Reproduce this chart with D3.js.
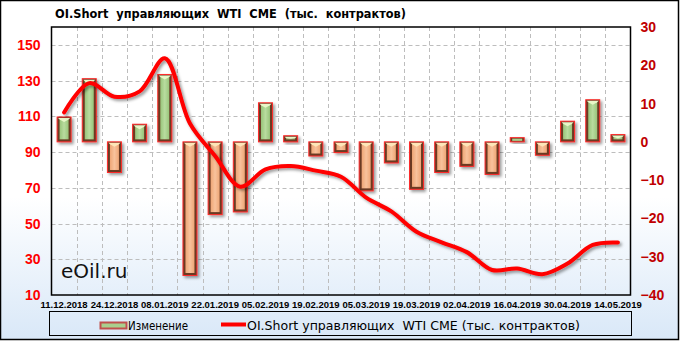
<!DOCTYPE html>
<html>
<head>
<meta charset="utf-8">
<script src="https://cdnjs.cloudflare.com/ajax/libs/d3/7.8.5/d3.min.js"></script>
<style>
  body { margin: 0; background: #fff; }
  svg { display: block; }
  text.pre { white-space: pre; }
</style>
</head>
<body>
<div id="chart"></div>
<script>
// weekly dates
const dates = ['11.12.2018', '18.12.2018', '24.12.2018', '31.12.2018', '08.01.2019', '15.01.2019',
  '22.01.2019', '29.01.2019', '05.02.2019', '12.02.2019', '19.02.2019', '26.02.2019',
  '05.03.2019', '12.03.2019', '19.03.2019', '26.03.2019', '02.04.2019', '09.04.2019',
  '16.04.2019', '23.04.2019', '30.04.2019', '07.05.2019', '14.05.2019'];

// weekly change (right axis)
const change = [6.5, 16.5, -8.0, 4.6, 17.6, -34.9, -19.0, -18.3, 10.2, 1.6, -3.7, -2.8,
  -12.8, -5.5, -12.4, -8.0, -6.4, -8.5, 1.1, -3.5, 5.4, 11.0, 1.9];

// OI short (left axis)
const oiShort = [112.2, 128.6, 121.0, 124.0, 142.5, 106.0, 87.8, 70.6, 80.3, 82.2, 79.6, 76.2,
  64.5, 56.8, 45.4, 39.5, 34.0, 24.0, 24.8, 21.6, 27.6, 38.0, 39.4];

const leftTicks = [10, 30, 50, 70, 90, 110, 130, 150];
const rightTicks = [-40, -30, -20, -10, 0, 10, 20, 30];
const xTicks = dates.filter((d, i) => i % 2 === 0);

const titleText = 'OI.Short  управляющих  WTI  CME  (тыс.  контрактов)';
const legendBar = 'Изменение';
const legendLine = 'OI.Short управляющих  WTI CME (тыс. контрактов)';

const W = 681, H = 341;
const plot = { left: 51.5, right: 630.5, top: 27, bottom: 295 };

const svg = d3.select('#chart').append('svg')
  .attr('width', W)
  .attr('height', H);

const defs = svg.append('defs');

const bg = defs.append('linearGradient').attr('id', 'bg')
  .attr('x1', 0).attr('y1', 0).attr('x2', 0).attr('y2', 1);
bg.append('stop').attr('offset', '0%').attr('stop-color', '#ffffff');
bg.append('stop').attr('offset', '58%').attr('stop-color', '#ffffff');
bg.append('stop').attr('offset', '100%').attr('stop-color', '#d9e8f8');

function barGrad(id, edge, mid) {
  const g = defs.append('linearGradient').attr('id', id)
    .attr('x1', 0).attr('y1', 0).attr('x2', 1).attr('y2', 0);
  g.append('stop').attr('offset', '0%').attr('stop-color', edge);
  g.append('stop').attr('offset', '50%').attr('stop-color', mid);
  g.append('stop').attr('offset', '100%').attr('stop-color', edge);
}
barGrad('gPos', '#98c47a', '#b9dc9f');
barGrad('gNeg', '#eea676', '#f8c29c');

const shadow = defs.append('filter').attr('id', 'shadow')
  .attr('x', '-50%').attr('y', '-50%').attr('width', '200%').attr('height', '200%');
shadow.append('feDropShadow')
  .attr('dx', 2).attr('dy', 2).attr('stdDeviation', 1.6)
  .attr('flood-color', '#000').attr('flood-opacity', 0.4);

// background
svg.append('rect')
  .attr('x', 0.5).attr('y', 0.5)
  .attr('width', W - 3).attr('height', H - 2)
  .attr('fill', 'url(#bg)')
  .attr('stroke', '#000')
  .attr('stroke-width', 1.5);

// scales
const x = d3.scaleBand().domain(dates).range([plot.left, plot.right]);
const yL = d3.scaleLinear().domain([10, 160]).range([plot.bottom, plot.top]);
const yR = d3.scaleLinear().domain([-40, 30]).range([plot.bottom, plot.top]);

// grid
const grid = svg.append('g')
  .attr('stroke', '#bdbdbd')
  .attr('stroke-dasharray', '4,3')
  .attr('stroke-width', 1);

grid.selectAll('line.h')
  .data(leftTicks.slice(1))
  .enter().append('line')
  .attr('x1', plot.left).attr('x2', plot.right)
  .attr('y1', d => Math.round(yL(d)) + 0.5)
  .attr('y2', d => Math.round(yL(d)) + 0.5);

grid.selectAll('line.v')
  .data(dates.slice(1))
  .enter().append('line')
  .attr('x1', d => Math.round(x(d)) + 0.5)
  .attr('x2', d => Math.round(x(d)) + 0.5)
  .attr('y1', plot.top).attr('y2', plot.bottom);

// watermark
svg.append('text')
  .attr('x', 61)
  .attr('y', 278)
  .style('font-family', 'DejaVu Sans, sans-serif')
  .style('font-size', '20px')
  .attr('fill', '#111')
  .text('eOil.ru');

// bars
const bw = 14;
const bars = svg.append('g').selectAll('g')
  .data(dates.map((d, i) => ({ date: d, v: change[i] })))
  .enter().append('g')
  .attr('filter', 'url(#shadow)');

bars.each(function (d) {
  const g = d3.select(this);
  const x0 = x(d.date) + x.bandwidth() / 2 - bw / 2;
  const yTop = Math.min(yR(d.v), yR(0));
  const h = Math.max(Math.abs(yR(d.v) - yR(0)), 2);
  const pos = d.v >= 0;
  g.append('rect')
    .attr('x', x0).attr('y', yTop)
    .attr('width', bw).attr('height', h)
    .attr('fill', '#6a3a24')
    .attr('stroke', '#ff2a2a')
    .attr('stroke-width', 1);
  if (h > 5) {
    const ins = 2.5;
    g.append('rect')
      .attr('x', x0 + ins).attr('y', yTop + ins)
      .attr('width', bw - 2 * ins).attr('height', h - 2 * ins)
      .attr('fill', pos ? 'url(#gPos)' : 'url(#gNeg)');
    // light bevel on top
    g.append('path')
      .attr('d', `M${x0 + 1},${yTop + 1} L${x0 + bw - 1},${yTop + 1} L${x0 + bw - ins},${yTop + ins}
        L${x0 + bw / 2},${yTop + Math.min(5, h / 2)} L${x0 + ins},${yTop + ins} Z`)
      .attr('fill', pos ? '#e8f7c8' : '#fde6b8');
  } else {
    g.append('rect')
      .attr('x', x0 + 2).attr('y', yTop + 1)
      .attr('width', bw - 4).attr('height', h - 2)
      .attr('fill', '#a9d08e');
  }
});

// line
const line = d3.line()
  .x(d => x(d.date) + x.bandwidth() / 2)
  .y(d => yL(d.v))
  .curve(d3.curveCatmullRom.alpha(0.5));

svg.append('path')
  .datum(dates.map((d, i) => ({ date: d, v: oiShort[i] })))
  .attr('d', line)
  .attr('fill', 'none')
  .attr('stroke', '#ff0000')
  .attr('stroke-width', 4)
  .attr('stroke-linecap', 'round')
  .attr('filter', 'url(#shadow)');

// frame
svg.append('rect')
  .attr('x', plot.left).attr('y', plot.top)
  .attr('width', plot.right - plot.left).attr('height', plot.bottom - plot.top)
  .attr('fill', 'none')
  .attr('stroke', '#000')
  .attr('stroke-width', 1.5);

// axes
const axL = svg.append('g')
  .attr('transform', 'translate(' + plot.left + ',0)')
  .call(d3.axisLeft(yL).tickValues(leftTicks).tickSize(0).tickPadding(11));
axL.select('.domain').remove();
axL.selectAll('text')
  .style('font-family', 'Liberation Sans, Arial, sans-serif')
  .style('font-size', '14px')
  .style('font-weight', 'bold')
  .attr('fill', '#ff0000');

const axR = svg.append('g')
  .attr('transform', 'translate(' + plot.right + ',0)')
  .call(d3.axisRight(yR).tickValues(rightTicks).tickSize(0).tickPadding(10));
axR.select('.domain').remove();
axR.selectAll('text')
  .style('font-family', 'Liberation Sans, Arial, sans-serif')
  .style('font-size', '14px')
  .style('font-weight', 'bold')
  .attr('fill', '#c00000');

const axB = svg.append('g')
  .attr('transform', 'translate(0,' + plot.bottom + ')')
  .call(d3.axisBottom(x).tickValues(xTicks).tickSize(0).tickPadding(6));
axB.select('.domain').remove();
axB.selectAll('text')
  .style('font-family', 'Liberation Sans, Arial, sans-serif')
  .style('font-size', '9.5px')
  .style('font-weight', 'bold')
  .attr('fill', '#000');

// title
svg.append('text')
  .attr('class', 'pre')
  .attr('x', 55)
  .attr('y', 18)
  .style('font-family', 'DejaVu Sans, sans-serif')
  .style('font-size', '12.5px')
  .style('font-weight', 'bold')
  .attr('textLength', 351)
  .attr('lengthAdjust', 'spacingAndGlyphs')
  .text(titleText);

// legend
const lg = svg.append('g');
lg.append('rect')
  .attr('x', 49.5).attr('y', 311.5)
  .attr('width', 582).attr('height', 24)
  .attr('fill', 'none')
  .attr('stroke', '#000')
  .attr('stroke-width', 1);

lg.append('rect')
  .attr('x', 100.5).attr('y', 322.5)
  .attr('width', 26).attr('height', 6)
  .attr('fill', '#a9d08e')
  .attr('stroke', '#c0504d')
  .attr('stroke-width', 2);

lg.append('text')
  .attr('x', 128).attr('y', 329.5)
  .style('font-family', 'DejaVu Sans, sans-serif')
  .style('font-size', '12px')
  .attr('textLength', 60)
  .attr('lengthAdjust', 'spacingAndGlyphs')
  .text(legendBar);

lg.append('line')
  .attr('x1', 221).attr('x2', 246)
  .attr('y1', 324.5).attr('y2', 324.5)
  .attr('stroke', '#ff0000')
  .attr('stroke-width', 4);

lg.append('text')
  .attr('class', 'pre')
  .attr('x', 247).attr('y', 329.5)
  .style('font-family', 'DejaVu Sans, sans-serif')
  .style('font-size', '12px')
  .attr('textLength', 333)
  .attr('lengthAdjust', 'spacingAndGlyphs')
  .text(legendLine);
</script>
</body>
</html>
